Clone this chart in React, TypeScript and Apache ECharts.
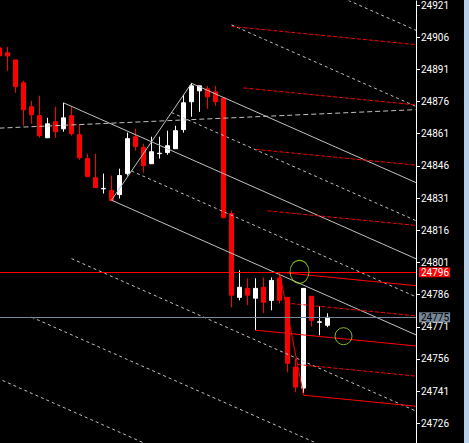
import React, { useEffect, useRef } from "react";
import * as echarts from "echarts";

// ---- data -----------------------------------------------------------
const OPEN = [24901.0, 24898.7, 24895.4, 24884.7, 24873.6, 24869.4, 24859.1, 24866.6, 24863.3, 24869.4, 24860.5, 24849.4, 24840.5, 24835.3, 24834.5, 24832.6, 24842.4, 24859.6, 24854.5, 24847.0, 24851.7, 24852.2, 24854.0, 24862.9, 24875.9, 24881.0, 24881.9, 24880.5, 24877.7, 24823.8, 24784.7, 24788.9, 24784.3, 24789.4, 24783.3, 24793.6, 24784.7, 24752.2, 24742.4, 24785.2, 24773.1, 24771.7];
const CLOSE = [24897.3, 24897.3, 24882.9, 24872.2, 24869.8, 24860.1, 24865.6, 24861.9, 24868.4, 24861.0, 24849.8, 24841.0, 24835.9, 24835.5, 24829.8, 24841.5, 24858.7, 24855.0, 24846.1, 24852.6, 24851.9, 24855.4, 24862.4, 24875.4, 24883.3, 24883.3, 24878.2, 24875.9, 24821.9, 24785.7, 24789.4, 24785.7, 24788.9, 24782.4, 24792.6, 24783.3, 24754.0, 24742.9, 24788.9, 24774.0, 24773.3, 24775.4];
const LOW = [24896.4, 24890.3, 24880.1, 24864.7, 24865.6, 24859.1, 24859.1, 24859.1, 24861.9, 24860.1, 24848.9, 24841.0, 24835.9, 24833.1, 24829.8, 24830.8, 24841.5, 24853.1, 24842.9, 24847.0, 24849.4, 24851.2, 24854.0, 24861.5, 24868.9, 24871.2, 24872.6, 24874.0, 24821.5, 24780.1, 24783.3, 24781.0, 24769.4, 24777.3, 24778.7, 24781.9, 24749.8, 24740.5, 24740.1, 24771.2, 24767.0, 24770.8];
const HIGH = [24901.9, 24901.5, 24895.4, 24885.7, 24876.3, 24878.7, 24868.4, 24873.6, 24875.4, 24873.6, 24865.6, 24851.7, 24851.7, 24842.4, 24841.5, 24844.7, 24861.5, 24863.3, 24856.3, 24859.6, 24859.6, 24862.4, 24864.7, 24879.1, 24884.7, 24883.3, 24883.3, 24883.3, 24877.7, 24825.2, 24797.3, 24793.6, 24793.6, 24794.0, 24794.0, 24796.0, 24784.7, 24756.3, 24788.9, 24785.2, 24780.5, 24777.3];

const PRICE_TICKS = [24726, 24741, 24756, 24771, 24786, 24801, 24816, 24831, 24846, 24861, 24876, 24891, 24906, 24921];

// pitchfork anchors [barIndex, price]: P1, P2, P3
const GRAY_FORK = [[8, 24875.4], [14, 24830.0], [24, 24884.5]];
const GRAY_LEVELS = [3, 2, 1, 0.5, 0, -0.5, -1, -2, -3, -4];
const RED_FORK = [[32, 24769.4], [35, 24796.4], [38, 24739.1]];
const RED_LEVELS = [1, 0.5, 0, -0.5, -1, -2, -3, -4, -5];

const TREND = [[0, 24863.6], [52, 24872.2]];
const MARKS = [[37.5, 24796.6, 19, 23], [43, 24766.6, 17, 17]];
const LEVEL_PRICE = 24796.4;
const BID_PRICE = 24775.4;

const X_MIN = 0.0625;
const X_MAX = 52.0625;
const Y_MIN = 24716.81;
const Y_MAX = 24922.86;

const FONT = "Roboto, 'Liberation Sans', sans-serif";
const SILVER = "#c0c0c0";
const RED = "#ff0000";

function lineSeries(pts: number[][], color: string, type: any) {
  return {
    type: "line",
    data: pts,
    symbol: "none",
    silent: true,
    clip: true,
    z: 3,
    lineStyle: { color, width: 1, type },
  };
}

function forkSeries(fork: number[][], levels: number[], color: string, dash: number[]) {
  const [p1, p2, p3] = fork;
  const m = [(p2[0] + p3[0]) / 2, (p2[1] + p3[1]) / 2];
  const slope = (m[1] - p1[1]) / (m[0] - p1[0]);
  const out: any[] = [];
  for (const k of levels) {
    const start = k === 0 ? p1 : [m[0] + k * (p3[0] - m[0]), m[1] + k * (p3[1] - m[1])];
    const end = [X_MAX, start[1] + slope * (X_MAX - start[0])];
    const solid = Number.isInteger(k) && Math.abs(k) <= 1;
    out.push(lineSeries([start, end], color, solid ? "solid" : dash));
  }
  out.push(lineSeries([p2, p3], color, "solid"));
  return out;
}

function tagLabel(bg: string, fg: string) {
  return {
    show: true,
    position: "end",
    distance: 3,
    formatter: (p: any) => String(Math.round(p.value)),
    backgroundColor: bg,
    color: fg,
    padding: [0, 1, 0, 2],
    fontSize: 10,
    lineHeight: 10,
    fontFamily: FONT,
  };
}

export default function App() {
  const ref = useRef<HTMLDivElement>(null);
  useEffect(() => {
    if (!ref.current) return;
    const chart = echarts.init(ref.current, null, { renderer: "svg" });
    const candles = OPEN.map((o, i) => [i, o, CLOSE[i], LOW[i], HIGH[i]]);
    const option: any = {
      animation: false,
      backgroundColor: "#000000",
      grid: { left: 0, top: 0, width: 416, height: 443, containLabel: false },
      xAxis: { type: "value", min: X_MIN, max: X_MAX, show: false },
      yAxis: {
        type: "value",
        position: "right",
        min: Y_MIN,
        max: Y_MAX,
        splitLine: { show: false },
        axisLine: { show: true, lineStyle: { color: "#ffffff", width: 1 } },
        axisTick: { show: true, length: 4, inside: false, customValues: PRICE_TICKS, lineStyle: { color: "#ffffff" } },
        axisLabel: {
          show: true,
          customValues: PRICE_TICKS,
          formatter: (v: number) => String(v),
          color: "#ffffff",
          fontSize: 10,
          lineHeight: 9,
          fontFamily: FONT,
          margin: 5,
          showMinLabel: true,
          showMaxLabel: true,
        },
      },
      graphic: [
        { type: "rect", right: 0, top: 0, shape: { width: 5, height: 443 }, style: { fill: "#b9d1ea" } },
      ],
      series: [
        {
          type: "candlestick",
          data: candles,
          encode: { x: 0, y: [1, 2, 3, 4] },
          barWidth: 4,
          z: 2,
          itemStyle: {
            color: "#ffffff",
            color0: RED,
            borderColor: "#ffffff",
            borderColor0: RED,
            borderWidth: 1,
          },
          markLine: {
            silent: true,
            symbol: "none",
            z: 5,
            data: [
              { yAxis: LEVEL_PRICE, lineStyle: { color: RED, width: 1, type: "solid" }, label: tagLabel(RED, "#ffffff") },
              { yAxis: BID_PRICE, lineStyle: { color: "#778899", width: 1, type: "solid" }, label: tagLabel("#778899", "#000000") },
            ],
          },
        },
        lineSeries(TREND, SILVER, [5, 3]),
        ...forkSeries(GRAY_FORK, GRAY_LEVELS, SILVER, [3, 3]),
        ...forkSeries(RED_FORK, RED_LEVELS, RED, [4, 2]),
        {
          type: "scatter",
          data: MARKS.map((m) => ({ value: [m[0], m[1]], symbolSize: [m[2], m[3]] })),
          symbol: "path://M0,10 A10,10 0 1,1 20,10 A10,10 0 1,1 0,10 Z",
          silent: true,
          z: 6,
          itemStyle: { color: "transparent", borderColor: "#a0e628", borderWidth: 1 },
        },
      ],
    };
    chart.setOption(option);
    return () => chart.dispose();
  }, []);
  return (
    <div style={{ position: "fixed", left: 0, top: 0, width: 469, height: 443, background: "#000" }}>
      <div ref={ref} style={{ width: 469, height: 443 }} />
    </div>
  );
}
